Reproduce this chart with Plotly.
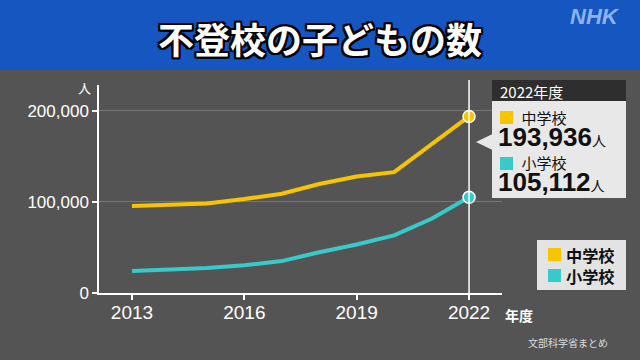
import plotly.graph_objects as go

years = [2013, 2014, 2015, 2016, 2017, 2018, 2019, 2020, 2021, 2022]
junior_high = [95442, 97033, 98408, 103235, 108999, 119687, 127922, 132777, 163442, 193936]
elementary = [24175, 25864, 27583, 30448, 35032, 44841, 53350, 63350, 81498, 105112]
x_ticks = [2013, 2016, 2019, 2022]
y_ticks = [0, 100000, 200000]
y_tick_labels = ["0", "100,000", "200,000"]
series_names = ["中学校", "小学校"]
title = "不登校の子どもの数"

YEL = "#F6C500"
TEAL = "#38CACA"
BG = "#545454"
BLUE = "#1556C0"
JP = "Noto Sans CJK JP"
NUM = "Liberation Sans"

W, H = 640, 360
L, R, T, B = 99, 502, 85, 293

def px(x):
    return (x - L) / (R - L)

def py(y):
    return (B - y) / (B - T)

fig = go.Figure()
fig.add_trace(go.Scatter(x=years, y=junior_high, mode="lines", line=dict(color=YEL, width=4), name=series_names[0]))
fig.add_trace(go.Scatter(x=years, y=elementary, mode="lines", line=dict(color=TEAL, width=4), name=series_names[1]))
fig.add_trace(go.Scatter(x=[years[-1]], y=[junior_high[-1]], mode="markers",
                         marker=dict(color=YEL, size=12, line=dict(color="white", width=1.5))))
fig.add_trace(go.Scatter(x=[years[-1]], y=[elementary[-1]], mode="markers",
                         marker=dict(color=TEAL, size=12, line=dict(color="white", width=1.5))))

shapes = []
shapes.append(dict(type="rect", xref="paper", yref="paper", x0=px(0), x1=px(640), y0=py(70), y1=py(0),
                   fillcolor=BLUE, line=dict(width=0), layer="below"))
shapes.append(dict(type="line", xref="x", yref="paper", x0=years[-1], x1=years[-1], y0=0, y1=py(80),
                   line=dict(color="white", width=1.5)))
shapes.append(dict(type="rect", xref="paper", yref="paper", x0=px(492), x1=px(626), y0=py(198), y1=py(101),
                   fillcolor="#E8E8E8", line=dict(width=0)))
shapes.append(dict(type="rect", xref="paper", yref="paper", x0=px(492), x1=px(626), y0=py(101), y1=py(80),
                   fillcolor="#2E2E2E", line=dict(width=0)))
shapes.append(dict(type="path", xref="paper", yref="paper",
                   path=f"M {px(476)} {py(142)} L {px(492.5)} {py(134)} L {px(492.5)} {py(150)} Z",
                   fillcolor="#E8E8E8", line=dict(width=0)))
shapes.append(dict(type="rect", xref="paper", yref="paper", x0=px(500), x1=px(513), y0=py(124), y1=py(111),
                   fillcolor=YEL, line=dict(width=0)))
shapes.append(dict(type="rect", xref="paper", yref="paper", x0=px(500), x1=px(513), y0=py(170), y1=py(157),
                   fillcolor=TEAL, line=dict(width=0)))
shapes.append(dict(type="rect", xref="paper", yref="paper", x0=px(537), x1=px(626), y0=py(290), y1=py(240),
                   fillcolor="#E3E3E3", line=dict(width=0)))
shapes.append(dict(type="rect", xref="paper", yref="paper", x0=px(548), x1=px(561), y0=py(261), y1=py(248),
                   fillcolor=YEL, line=dict(width=0)))
shapes.append(dict(type="rect", xref="paper", yref="paper", x0=px(548), x1=px(561), y0=py(282), y1=py(269),
                   fillcolor=TEAL, line=dict(width=0)))

outline = ",".join(f"{a}px {b}px 0 #000" for a in (-2, 0, 2) for b in (-2, 0, 2) if (a, b) != (0, 0))

ann = []
def add(text, x, y, size, color, family=JP, xanchor="left", **kw):
    ann.append(dict(text=text, x=px(x), y=py(y), xref="paper", yref="paper", showarrow=False,
                    xanchor=xanchor, yanchor="middle", align="left",
                    font=dict(family=family, size=size, color=color, **kw)))

pad = "&nbsp;" * 7
def label(s):
    return f"<span style='font-family:{JP};font-size:15px'>{pad}{s}</span>"
def number(v):
    return f"<b><span style='font-size:26px'>{v:,}</span></b><span style='font-family:{JP};font-size:14px'>人</span>"

add(f"<b>{title}</b>", 320, 38, 36, "white", xanchor="center", shadow=outline)
add("<b><i>NHK</i></b>", 595, 16, 22, "#8CB4F0", family=NUM, xanchor="center")
add("2022年度", 498, 91, 15, "white")
tooltip = "<br>".join([label(series_names[0]), number(junior_high[-1]),
                       label(series_names[1]), number(elementary[-1])])
add(tooltip, 496, 152, 17.2, "#111", family=NUM)
add(f"<b>{series_names[0]}</b><br><b>{series_names[1]}</b>", 564, 265.5, 16.2, "#111")
add("人", 84, 87, 13, "white", xanchor="center")
add("<b>年度</b>", 503, 315, 14, "white")
add("文部科学省まとめ", 568, 342, 10, "#DDDDDD", xanchor="center")

fig.update_layout(
    width=W, height=H, autosize=False,
    margin=dict(l=L, r=W - R, t=T, b=H - B, pad=0),
    paper_bgcolor=BG, plot_bgcolor=BG,
    showlegend=False,
    shapes=shapes, annotations=ann,
    xaxis=dict(range=[2012.12, 2022.88], tickvals=x_ticks, showgrid=False, zeroline=False,
               showline=True, linecolor="white", linewidth=1.5, ticks="outside", ticklen=5,
               tickcolor="white", tickwidth=1.5, ticklabelstandoff=-4,
               tickfont=dict(family=NUM, size=19, color="white")),
    yaxis=dict(range=[0, 228500], tickvals=y_ticks, ticktext=y_tick_labels, showgrid=True,
               gridcolor="#777777", gridwidth=1, zeroline=False,
               showline=True, linecolor="white", linewidth=1.5, ticks="outside", ticklen=5,
               tickcolor="white", tickwidth=1.5, tickfont=dict(family=NUM, size=17, color="white")),
)

fig.write_html("out.html")
